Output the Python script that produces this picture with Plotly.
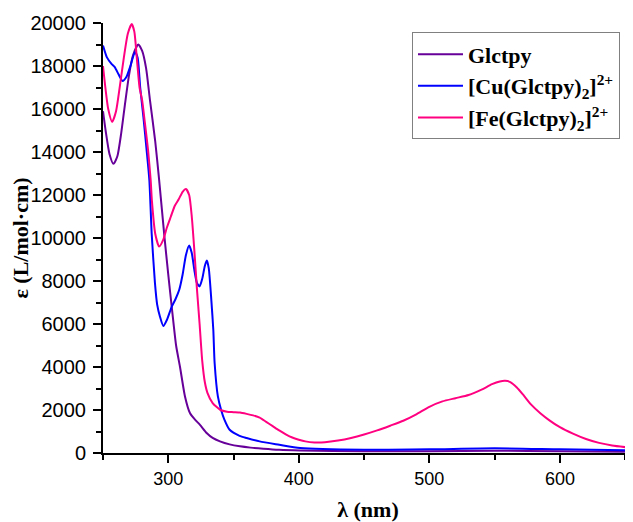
import plotly.graph_objects as go

# Glctpy (purple)
wl_lig = [250, 252, 255, 258, 261, 264, 267, 270, 273, 277, 280, 283, 286, 290, 293, 297, 300, 303, 306, 309,
          312.8, 316.6, 320.5, 324.3, 329.4, 334, 339.6, 347, 354.9, 363, 372.8, 385, 401, 450, 500, 550, 600, 656]
eps_lig = [15900, 15000, 13900, 13450, 13800, 14900, 16300, 17600, 18500, 19000, 18700, 17900, 16400, 14500, 12700,
           10100, 8300, 6600, 5000, 4000, 2630, 1860, 1550, 1310, 930, 700, 540, 400, 310, 250, 200, 150, 120, 80, 80,
           110, 80, 50]

# [Cu(Glctpy)2]2+ (blue)
wl_cu = [250, 253, 256.5, 259, 262, 265, 268, 271, 274.5, 276.5, 278.5, 281, 283.4, 285.5, 287.3, 289.8, 291.5,
         293.6, 296.2, 299, 302.6, 305.5, 308.4, 311, 313.5, 316, 318, 320, 322, 324, 326, 328, 329.5, 331, 333,
         334.5, 335.5, 338, 340.5, 343, 347, 354.6, 360, 370, 385, 401, 450, 500, 550, 600, 656]
eps_cu = [18950, 18400, 18100, 17950, 17600, 17300, 17500, 18000, 18650, 18400, 17000, 15600, 14100, 12700, 10200,
          7900, 6900, 6350, 5910, 6200, 6800, 7150, 7590, 8300, 9200, 9650, 9300, 8500, 7900, 7750, 8100, 8700,
          8950, 8600, 7100, 5730, 4200, 2630, 2000, 1550, 1080, 800, 700, 540, 385, 230, 150, 170, 220, 170, 120]

# [Fe(Glctpy)2]2+ (pink)
wl_fe = [250, 252, 254, 257, 260, 263, 266, 269, 272, 274, 276, 278, 280, 282, 284.5, 286.5, 287.5, 290, 293, 296,
         299, 302, 305, 308, 311, 313.5, 316, 318, 320, 322, 324, 326, 328, 330, 334, 340, 345, 350, 355, 360, 365,
         370, 375, 380, 385, 390, 395, 400, 405, 412, 420, 430, 440, 450, 460, 470, 480, 490, 500, 510, 520, 530,
         540, 548, 554, 558, 562, 567, 572, 578, 585, 592, 600, 610, 620, 630, 640, 656]
eps_fe = [18000, 16900, 16000, 15400, 15900, 17100, 18400, 19500, 19950, 19600, 18300, 17000, 16400, 15400, 14100,
          12700, 11700, 10200, 9600, 9900, 10500, 11000, 11500, 11800, 12150, 12280, 12000, 11000, 9400, 7600, 6000,
          4300, 3300, 2800, 2320, 2000, 1920, 1900, 1880, 1820, 1750, 1650, 1450, 1250, 1050, 870, 720, 620, 540,
          490, 500, 580, 700, 860, 1050, 1270, 1500, 1800, 2150, 2400, 2550, 2700, 2950, 3200, 3330, 3360, 3300,
          3050, 2700, 2250, 1850, 1520, 1200, 900, 650, 470, 350, 230]

names = ["Glctpy", "[Cu(Glctpy)<sub>2</sub>]<sup>2+</sup>", "[Fe(Glctpy)<sub>2</sub>]<sup>2+</sup>"]
colors = ["#660099", "#0000FF", "#FF0080"]

fig = go.Figure()
for wl, eps, nm, col in zip([wl_lig, wl_cu, wl_fe], [eps_lig, eps_cu, eps_fe], names, colors):
    fig.add_trace(go.Scatter(x=wl, y=eps, name=nm, mode="lines",
                             line=dict(color=col, width=2, shape="spline", smoothing=0.6),
                             cliponaxis=True))

fig.update_layout(
    width=633, height=530,
    margin=dict(l=95, r=8, t=15, b=85),
    paper_bgcolor="white", plot_bgcolor="white",
    showlegend=True,
    legend=dict(x=0.583, y=0.978, xanchor="left", yanchor="top",
                bordercolor="#808080", borderwidth=1, bgcolor="white",
                font=dict(family="Liberation Serif", size=22, color="black", weight="bold"),
                tracegroupgap=0, itemwidth=45),
)
fig.update_xaxes(
    range=[250, 656], showgrid=False, zeroline=False, automargin=False,
    showline=True, linecolor="black", linewidth=2,
    ticks="outside", ticklen=8, tickwidth=2, tickcolor="black",
    tick0=300, dtick=100,
    minor=dict(ticks="outside", ticklen=5, tickwidth=2, tickcolor="black", dtick=50, tick0=250),
    tickfont=dict(family="Liberation Sans", size=18, color="black"),
    title=dict(text="λ (nm)", font=dict(family="Liberation Serif", size=22, color="black", weight="bold"),
               standoff=14),
)
fig.update_yaxes(
    range=[0, 20000], showgrid=False, zeroline=False, automargin=False,
    showline=True, linecolor="black", linewidth=2,
    ticks="outside", ticklen=8, tickwidth=2, tickcolor="black",
    tick0=0, dtick=2000, tickformat="d", ticklabelstandoff=3,
    minor=dict(ticks="outside", ticklen=5, tickwidth=2, tickcolor="black", dtick=1000),
    tickfont=dict(family="Liberation Sans", size=20, color="black"),
    title=dict(text="ε (L/mol·cm)", font=dict(family="Liberation Serif", size=22, color="black", weight="bold"),
               standoff=6),
)

fig.write_html("out.html")
